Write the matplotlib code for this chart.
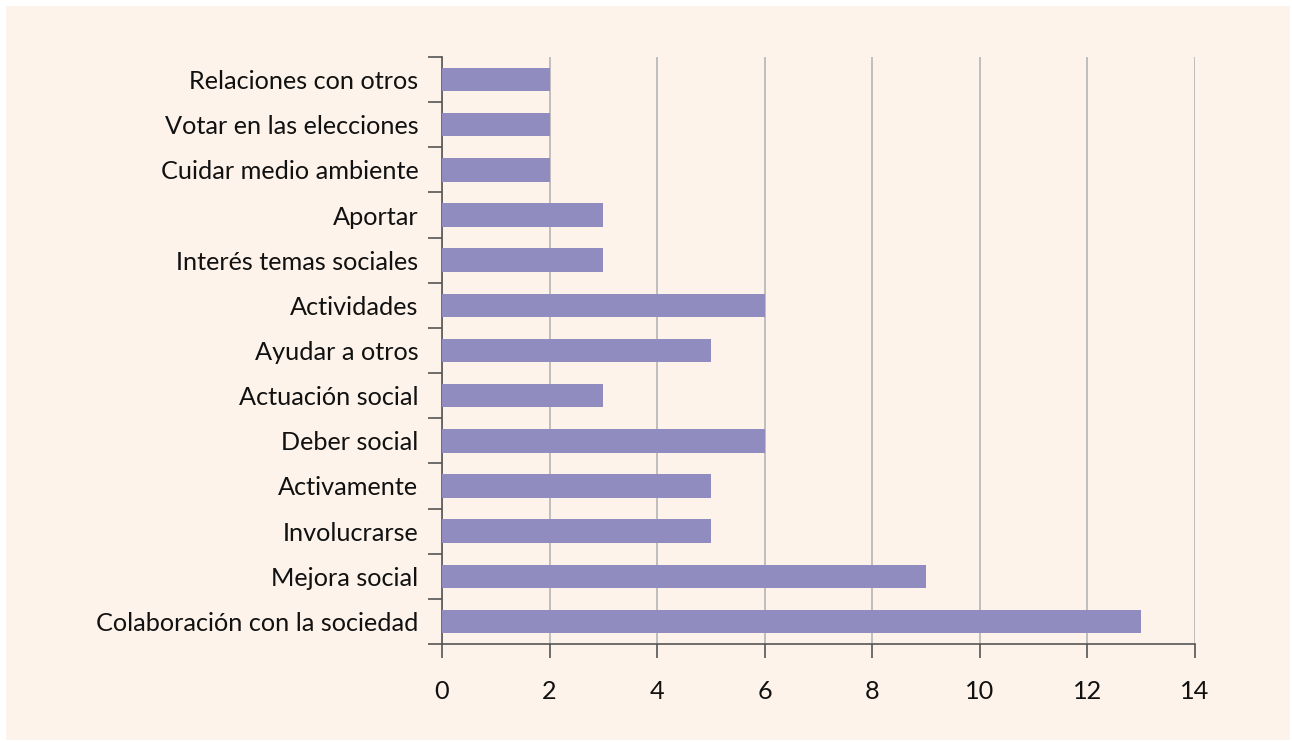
import matplotlib
matplotlib.use("Agg")
import matplotlib.pyplot as plt
import numpy as np

categories = ['Relaciones con otros', 'Votar en las elecciones', 'Cuidar medio ambiente',
              'Aportar', 'Interés temas sociales', 'Actividades', 'Ayudar a otros',
              'Actuación social', 'Deber social', 'Activamente', 'Involucrarse',
              'Mejora social', 'Colaboración con la sociedad']
values = [2, 2, 2, 3, 3, 6, 5, 3, 6, 5, 5, 9, 13]
xticks = [0, 2, 4, 6, 8, 10, 12, 14]

bg = '#fdf3ea'
bar_color = '#908cbf'

plt.rcParams['font.family'] = ['Lato', 'DejaVu Sans']

fig = plt.figure(figsize=(12.92, 7.42), dpi=100)
fig.patch.set_facecolor('white')

# cream panel behind the chart
back = fig.add_axes([6 / 1292, 2 / 742, 1284 / 1292, 734 / 742], zorder=-1)
back.set_facecolor(bg)
back.set_axis_off()
back.add_patch(plt.Rectangle((0, 0), 1, 1, transform=back.transAxes,
                             facecolor=bg, edgecolor='none'))

ax = fig.add_axes([442 / 1292, 1 - 644 / 742, 753 / 1292, 587 / 742])
ax.set_facecolor('none')

y = np.arange(len(categories))
ax.barh(y, values, height=0.52, color=bar_color, zorder=3)
ax.set_ylim(len(categories) - 0.5, -0.5)
ax.set_xlim(0, 14)

ax.set_yticks(y)
ax.set_yticklabels(categories, fontsize=18.2, color='#111111')
ax.tick_params(axis='y', which='major', length=0, pad=17)
ax.set_yticks(np.arange(-0.5, len(categories), 1), minor=True)
ax.tick_params(axis='y', which='minor', length=10, width=1.2, color='#555555')

ax.set_xticks(xticks)
ax.set_xticklabels([str(t) for t in xticks], fontsize=18.2, color='#111111')
ax.tick_params(axis='x', length=10, width=1.2, color='#555555', pad=16)

ax.grid(axis='x', color='#b5b5b5', linewidth=1.2, zorder=1)
ax.set_axisbelow(True)

for s in ['top', 'right']:
    ax.spines[s].set_visible(False)
for s in ['left', 'bottom']:
    ax.spines[s].set_color('#555555')
    ax.spines[s].set_linewidth(1.2)

fig.savefig('out.png', dpi=100, facecolor='white')
